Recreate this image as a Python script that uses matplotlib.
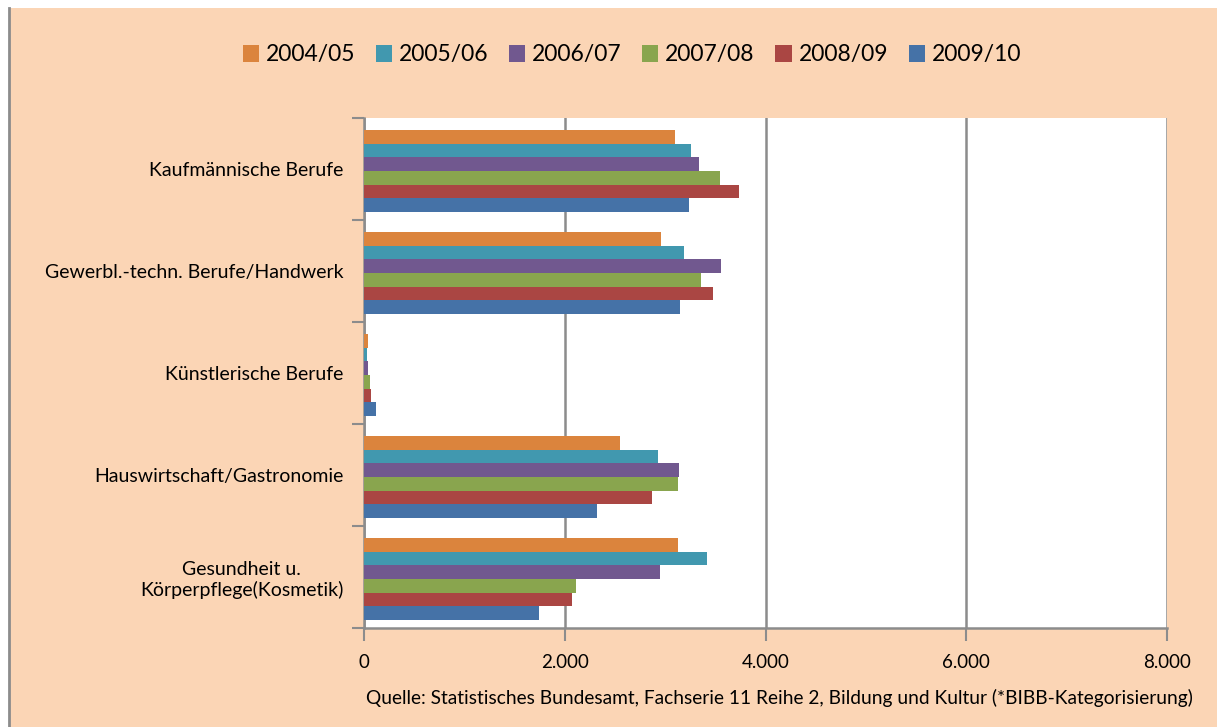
import matplotlib
matplotlib.use("Agg")
import matplotlib.pyplot as plt
import numpy as np
from matplotlib.ticker import FuncFormatter

plt.rcParams['font.family'] = ['Lato', 'DejaVu Sans']

# data
kategorien = ['Kaufmännische Berufe', 'Gewerbl.-techn. Berufe/Handwerk',
              'Künstlerische Berufe', 'Hauswirtschaft/Gastronomie',
              'Gesundheit u.\nKörperpflege(Kosmetik)']
jahre = ['2004/05', '2005/06', '2006/07', '2007/08', '2008/09', '2009/10']
w_0405 = [3096, 2956, 40, 2555, 3126]
w_0506 = [3257, 3187, 30, 2926, 3417]
w_0607 = [3337, 3558, 43, 3136, 2946]
w_0708 = [3548, 3357, 57, 3126, 2113]
w_0809 = [3738, 3477, 67, 2866, 2073]
w_0910 = [3237, 3146, 117, 2324, 1742]
werte = [w_0405, w_0506, w_0607, w_0708, w_0809, w_0910]
farben = ['#DB843D', '#4198AF', '#71588F', '#89A54E', '#AA4643', '#4572A7']

bg = '#FBD5B5'
fig = plt.figure(figsize=(12.17, 7.27), dpi=100, facecolor='white')
# peach panel with white strip at top/left and a gray line on the left
fig.patches.append(plt.Rectangle((9.5 / 1217, 0), 1, 1 - 8 / 727, transform=fig.transFigure,
                                 facecolor=bg, edgecolor='none', zorder=-2))
fig.lines.append(plt.Line2D([8.5 / 1217, 8.5 / 1217], [0, 1 - 8 / 727], transform=fig.transFigure,
                            color='#8C8C8C', lw=2, zorder=-1))

ax = fig.add_axes([364 / 1217, 1 - 628 / 727, 803 / 1217, 510 / 727])
ax.set_facecolor('white')

n = len(kategorien)
y = np.arange(n)
h = 0.134
for i, (vals, c, lab) in enumerate(zip(werte, farben, jahre)):
    ax.barh(y - 2.5 * h + i * h + 0.02, vals, height=h, color=c, label=lab, zorder=3)

ax.set_ylim(n - 0.5, -0.5)
ax.set_xlim(0, 8000)
ax.set_xticks([0, 2000, 4000, 6000, 8000])
ax.xaxis.set_major_formatter(FuncFormatter(lambda v, p: f'{int(v):,}'.replace(',', '.')))
ax.grid(axis='x', color='#8C8C8C', lw=1.8, zorder=1)

ax.set_yticks(y)
ax.set_yticklabels(kategorien, multialignment='center')
ax.tick_params(axis='y', length=0, pad=15, labelsize=14, colors='#000000')
ax.set_yticks(np.arange(n + 1) - 0.5, minor=True)
ax.tick_params(axis='y', which='minor', length=9, width=1.5, color='#8C8C8C')
ax.tick_params(axis='x', length=9, width=1.5, color='#8C8C8C', labelsize=13.5, pad=10)

for s in ['top', 'right']:
    ax.spines[s].set_visible(False)
for s in ['left', 'bottom']:
    ax.spines[s].set_color('#8C8C8C')
    ax.spines[s].set_linewidth(1.8)

fig.legend(loc='center', bbox_to_anchor=(632 / 1217, 1 - 55 / 727), ncol=6, frameon=False,
           fontsize=16.5, handlelength=0.7, handleheight=0.7, handletextpad=0.3, columnspacing=0.9)

fig.text(1193 / 1217, 1 - 698 / 727,
         'Quelle: Statistisches Bundesamt, Fachserie 11 Reihe 2, Bildung und Kultur (*BIBB-Kategorisierung)',
         ha='right', va='center', fontsize=13.8)

fig.savefig('out.png', dpi=100, facecolor='white')
